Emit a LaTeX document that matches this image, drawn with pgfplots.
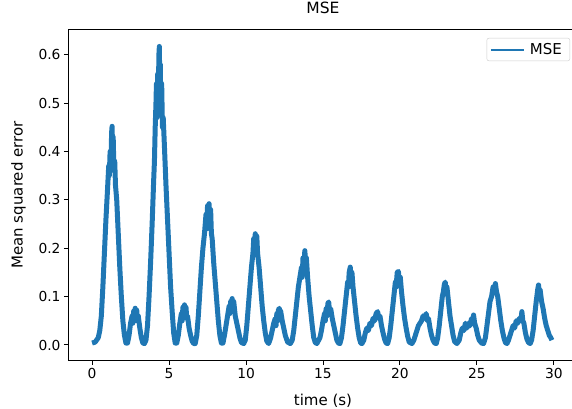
\documentclass[border=0pt]{standalone}
\usepackage{fontspec}
\setmainfont{DejaVu Sans}
\usepackage{pgfplots}
\pgfplotsset{compat=1.18}
\definecolor{mplblue}{HTML}{1F77B4}

\begin{document}
\begin{tikzpicture}
\begin{axis}[
  at={(0,0)}, anchor=south west,
  scale only axis, width=508bp, height=330bp,
  xmin=-1.5, xmax=31.5, ymin=-0.031, ymax=0.651,
  xtick={0,5,...,30}, ytick={0,0.1,...,0.6},
  xtick pos=left, ytick pos=left,
  tick align=outside, major tick length=5bp,
  tick style={black, line width=1bp},
  axis line style={black, line width=1bp},
  /pgf/number format/assume math mode=true,
  scaled y ticks=false,
  yticklabel style={/pgf/number format/.cd, fixed, fixed zerofill, precision=1},
  tick label style={font=\fontsize{13.8bp}{16bp}\selectfont},
  title={MSE},
  title style={at={(axis description cs:0.5,1.0333)}, anchor=base, font=\fontsize{15.5bp}{18bp}\selectfont},
  xlabel={time (s)},
  xlabel style={at={(axis description cs:0.5,-0.1364)}, anchor=base, font=\fontsize{15bp}{18bp}\selectfont},
  ylabel={Mean squared error},
  ylabel style={at={(axis description cs:-0.0915,0.5)}, anchor=base, rotate=0, font=\fontsize{15bp}{18bp}\selectfont},
  legend style={at={(axis description cs:1,1)}, anchor=north east, xshift=-7bp, yshift=-8bp,
    draw=black!20, rounded corners=2bp, inner xsep=3bp, inner ysep=3bp,
    font=\fontsize{15bp}{18bp}\selectfont,
    nodes={inner xsep=5bp, inner ysep=2bp}},
  legend image code/.code={\draw[#1, line width=2bp] (0bp,0bp) -- (33bp,0bp);},
]
\addplot[mplblue, line width=5bp, line join=round] coordinates {
(0,0.004) (0.2,0.006) (0.4,0.015) (0.5,0.03) (0.6,0.06) (0.7,0.12) (0.8,0.19) (0.9,0.26) (1.0,0.32) (1.08,0.37) (1.12,0.35) (1.17,0.40) (1.22,0.37) (1.27,0.44) (1.30,0.452) (1.33,0.40) (1.37,0.43) (1.42,0.36) (1.47,0.38) (1.52,0.33) (1.6,0.30) (1.7,0.23) (1.8,0.16) (1.9,0.10) (2.0,0.05) (2.1,0.02) (2.2,0.004) (2.3,0.004)
(2.4,0.02) (2.5,0.045) (2.6,0.06) (2.65,0.045) (2.7,0.07) (2.75,0.05) (2.8,0.076) (2.85,0.055) (2.9,0.072) (2.95,0.05) (3.0,0.06) (3.1,0.035) (3.2,0.015) (3.3,0.004) (3.4,0.003)
(3.5,0.01) (3.6,0.04) (3.7,0.10) (3.8,0.17) (3.9,0.25) (4.0,0.34) (4.05,0.38) (4.1,0.45) (4.15,0.50) (4.18,0.54) (4.22,0.47) (4.26,0.56) (4.3,0.50) (4.34,0.60) (4.37,0.617) (4.4,0.52) (4.43,0.58) (4.47,0.48) (4.52,0.54) (4.57,0.45) (4.62,0.47) (4.7,0.41) (4.8,0.33) (4.9,0.26) (5.0,0.19) (5.1,0.12) (5.2,0.07) (5.3,0.025) (5.4,0.004) (5.5,0.004)
(5.6,0.02) (5.7,0.045) (5.8,0.065) (5.85,0.05) (5.9,0.078) (5.95,0.06) (6.0,0.083) (6.05,0.06) (6.1,0.078) (6.15,0.055) (6.2,0.06) (6.3,0.035) (6.4,0.02) (6.5,0.008) (6.6,0.003) (6.7,0.003)
(6.8,0.02) (6.9,0.06) (7.0,0.11) (7.1,0.16) (7.2,0.20) (7.3,0.23) (7.4,0.27) (7.45,0.24) (7.5,0.288) (7.55,0.25) (7.6,0.292) (7.65,0.25) (7.7,0.28) (7.75,0.23) (7.8,0.22) (7.9,0.17) (8.0,0.13) (8.1,0.09) (8.2,0.05) (8.3,0.02) (8.4,0.004) (8.5,0.004)
(8.6,0.02) (8.7,0.04) (8.8,0.06) (8.9,0.08) (8.95,0.065) (9.0,0.09) (9.05,0.07) (9.1,0.096) (9.15,0.075) (9.2,0.09) (9.3,0.06) (9.4,0.045) (9.5,0.03) (9.6,0.015) (9.7,0.005) (9.85,0.003)
(9.95,0.01) (10.05,0.04) (10.15,0.08) (10.25,0.12) (10.35,0.16) (10.45,0.19) (10.5,0.22) (10.55,0.19) (10.6,0.23) (10.65,0.20) (10.7,0.225) (10.75,0.19) (10.85,0.16) (10.95,0.12) (11.05,0.08) (11.15,0.05) (11.25,0.025) (11.35,0.008) (11.47,0.003)
(11.6,0.015) (11.7,0.03) (11.8,0.045) (11.9,0.055) (11.95,0.04) (12.0,0.065) (12.05,0.05) (12.1,0.072) (12.16,0.076) (12.2,0.06) (12.25,0.07) (12.35,0.05) (12.45,0.035) (12.55,0.02) (12.7,0.006) (12.88,0.003)
(13.0,0.01) (13.1,0.03) (13.2,0.06) (13.3,0.09) (13.4,0.12) (13.5,0.14) (13.6,0.16) (13.65,0.14) (13.7,0.18) (13.75,0.16) (13.82,0.195) (13.87,0.17) (13.92,0.18) (14.0,0.14) (14.1,0.10) (14.2,0.07) (14.3,0.04) (14.4,0.015) (14.5,0.005) (14.6,0.003)
(14.8,0.015) (14.9,0.03) (15.0,0.05) (15.1,0.065) (15.15,0.05) (15.2,0.075) (15.25,0.06) (15.32,0.086) (15.37,0.089) (15.42,0.07) (15.5,0.075) (15.6,0.055) (15.7,0.04) (15.8,0.025) (15.9,0.01) (16.0,0.004) (16.1,0.003)
(16.2,0.015) (16.3,0.04) (16.4,0.07) (16.5,0.10) (16.6,0.13) (16.65,0.12) (16.7,0.15) (16.77,0.161) (16.82,0.14) (16.88,0.15) (16.95,0.12) (17.05,0.09) (17.15,0.06) (17.25,0.035) (17.35,0.015) (17.45,0.004) (17.53,0.003)
(17.65,0.01) (17.75,0.025) (17.85,0.035) (17.95,0.03) (18.05,0.045) (18.15,0.04) (18.25,0.055) (18.35,0.05) (18.45,0.065) (18.55,0.069) (18.62,0.055) (18.7,0.06) (18.8,0.04) (18.9,0.025) (19.0,0.012) (19.1,0.004) (19.2,0.003)
(19.3,0.015) (19.4,0.04) (19.5,0.07) (19.6,0.10) (19.7,0.13) (19.75,0.12) (19.82,0.15) (19.9,0.152) (19.95,0.13) (20.02,0.14) (20.1,0.11) (20.2,0.08) (20.3,0.055) (20.4,0.035) (20.5,0.018) (20.6,0.006) (20.78,0.003)
(20.9,0.01) (21.0,0.02) (21.1,0.03) (21.2,0.04) (21.3,0.045) (21.4,0.05) (21.5,0.06) (21.6,0.055) (21.7,0.065) (21.78,0.05) (21.85,0.055) (21.95,0.035) (22.05,0.02) (22.15,0.01) (22.25,0.004) (22.36,0.003)
(22.45,0.015) (22.55,0.04) (22.65,0.07) (22.75,0.10) (22.82,0.11) (22.88,0.125) (22.94,0.130) (23.0,0.11) (23.05,0.12) (23.15,0.09) (23.25,0.06) (23.35,0.04) (23.45,0.02) (23.55,0.007) (23.7,0.003)
(23.85,0.01) (23.95,0.025) (24.05,0.035) (24.15,0.03) (24.25,0.045) (24.35,0.035) (24.45,0.045) (24.55,0.04) (24.65,0.055) (24.72,0.045) (24.78,0.062) (24.85,0.045) (24.95,0.035) (25.05,0.02) (25.15,0.01) (25.3,0.004) (25.43,0.003)
(25.55,0.015) (25.65,0.04) (25.75,0.065) (25.85,0.09) (25.95,0.10) (26.05,0.12) (26.12,0.11) (26.2,0.127) (26.27,0.11) (26.35,0.10) (26.45,0.075) (26.55,0.05) (26.65,0.03) (26.75,0.015) (26.85,0.005) (26.95,0.003)
(27.05,0.01) (27.15,0.02) (27.25,0.03) (27.35,0.04) (27.45,0.035) (27.55,0.05) (27.65,0.045) (27.75,0.055) (27.85,0.05) (27.92,0.069) (27.98,0.05) (28.05,0.045) (28.15,0.025) (28.25,0.012) (28.35,0.005) (28.46,0.003)
(28.55,0.01) (28.65,0.03) (28.75,0.06) (28.85,0.09) (28.95,0.115) (29.0,0.124) (29.05,0.11) (29.1,0.115) (29.2,0.09) (29.3,0.075) (29.4,0.055) (29.5,0.04) (29.6,0.03) (29.7,0.02) (29.8,0.015) (29.87,0.01)
};
\addlegendentry{MSE}
\end{axis}
\pgfresetboundingbox
\path[use as bounding box] (-69bp,-49bp) rectangle (503bp,360bp);
\end{tikzpicture}
\end{document}
